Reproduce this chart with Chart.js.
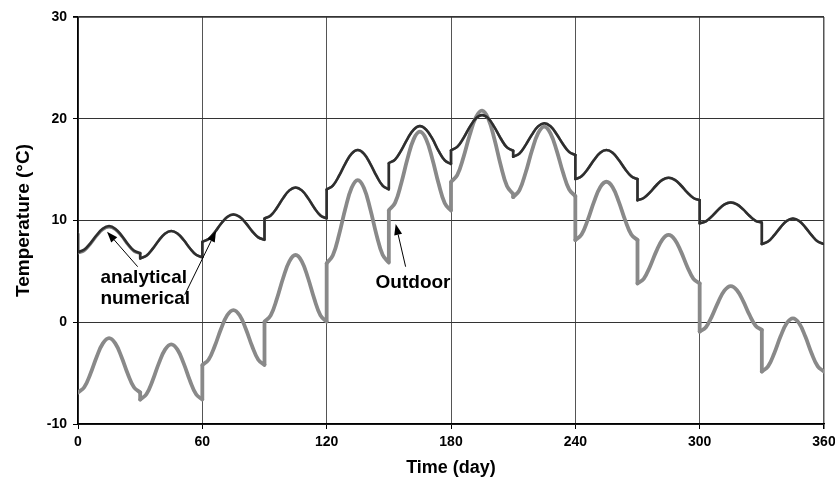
<!DOCTYPE html>
<html>
<head>
<meta charset="utf-8">
<script src="https://cdn.jsdelivr.net/npm/chart.js@4/dist/chart.umd.min.js"></script>
<style>
  html, body { margin: 0; padding: 0; background: #ffffff; }
  #wrap { width: 835px; height: 482px; position: relative; }
</style>
</head>
<body>
<div id="wrap"><canvas id="c" width="835" height="482"></canvas></div>
<script>
// Time axis (day); a repeated day marks a monthly step in the curves
const days = [
  0, 0, 3, 6, 9, 12, 15, 18, 21, 24, 27, 30,
  30, 33, 36, 39, 42, 45, 48, 51, 54, 57, 60,
  60, 63, 66, 69, 72, 75, 78, 81, 84, 87, 90,
  90, 93, 96, 99, 102, 105, 108, 111, 114, 117, 120,
  120, 123, 126, 129, 132, 135, 138, 141, 144, 147, 150,
  150, 153, 156, 159, 162, 165, 168, 171, 174, 177, 180,
  180, 183, 186, 189, 192, 195, 198, 201, 204, 207, 210,
  210, 213, 216, 219, 222, 225, 228, 231, 234, 237, 240,
  240, 243, 246, 249, 252, 255, 258, 261, 264, 267, 270,
  270, 273, 276, 279, 282, 285, 288, 291, 294, 297, 300,
  300, 303, 306, 309, 312, 315, 318, 321, 324, 327, 330,
  330, 333, 336, 339, 342, 345, 348, 351, 354, 357, 360
];

// Analytical soil temperature (°C)
const analytical = [
  8.7, 6.9, 7.14, 7.78, 8.57, 9.21, 9.45, 9.2, 8.54, 7.71, 7.05, 6.8,
  6.28, 6.54, 7.21, 8.04, 8.71, 8.97, 8.72, 8.08, 7.27, 6.63, 6.38,
  7.92, 8.17, 8.84, 9.68, 10.35, 10.6, 10.36, 9.74, 8.96, 8.34, 8.1,
  10.2, 10.49, 11.25, 12.2, 12.96, 13.25, 12.96, 12.2, 11.25, 10.49, 10.2,
  13.06, 13.43, 14.4, 15.6, 16.56, 16.93, 16.56, 15.6, 14.4, 13.43, 13.06,
  15.65, 15.99, 16.9, 18.03, 18.94, 19.28, 18.93, 18.04, 16.84, 15.9, 15.55,
  16.9, 17.23, 18.09, 19.17, 20.03, 20.36, 20.03, 19.15, 18.06, 17.18, 16.85,
  16.27, 16.58, 17.41, 18.42, 19.25, 19.56, 19.26, 18.48, 17.52, 16.74, 16.44,
  14.07, 14.34, 15.06, 15.94, 16.66, 16.93, 16.66, 15.94, 15.06, 14.34, 14.07,
  12.0, 12.21, 12.76, 13.44, 13.99, 14.2, 13.99, 13.44, 12.76, 12.21, 12.0,
  9.72, 9.92, 10.43, 11.07, 11.58, 11.78, 11.59, 11.09, 10.47, 9.97, 9.79,
  7.69, 7.93, 8.56, 9.33, 9.96, 10.2, 9.96, 9.33, 8.56, 7.93, 7.69
];

// Numerical soil temperature (°C)
const numerical = [
  8.7, 6.8, 7.02, 7.66, 8.45, 9.1, 9.35, 9.1, 8.45, 7.62, 6.97, 6.75,
  6.28, 6.54, 7.21, 8.04, 8.71, 8.97, 8.72, 8.08, 7.27, 6.63, 6.38,
  7.92, 8.17, 8.84, 9.68, 10.35, 10.6, 10.36, 9.74, 8.96, 8.34, 8.1,
  10.2, 10.49, 11.25, 12.2, 12.96, 13.25, 12.96, 12.2, 11.25, 10.49, 10.2,
  13.06, 13.43, 14.4, 15.6, 16.56, 16.93, 16.56, 15.6, 14.4, 13.43, 13.06,
  15.65, 15.99, 16.9, 18.03, 18.94, 19.28, 18.93, 18.04, 16.84, 15.9, 15.55,
  16.9, 17.23, 18.09, 19.17, 20.03, 20.36, 20.03, 19.15, 18.06, 17.18, 16.85,
  16.27, 16.58, 17.41, 18.42, 19.25, 19.56, 19.26, 18.48, 17.52, 16.74, 16.44,
  14.07, 14.34, 15.06, 15.94, 16.66, 16.93, 16.66, 15.94, 15.06, 14.34, 14.07,
  12.0, 12.21, 12.76, 13.44, 13.99, 14.2, 13.99, 13.44, 12.76, 12.21, 12.0,
  9.72, 9.92, 10.43, 11.07, 11.58, 11.78, 11.59, 11.09, 10.47, 9.97, 9.79,
  7.69, 7.93, 8.56, 9.33, 9.96, 10.2, 9.96, 9.33, 8.56, 7.93, 7.69
];

// Outdoor air temperature (°C)
const outdoor = [
  -6.9, -6.9, -6.39, -5.06, -3.41, -2.08, -1.57, -2.08, -3.41, -5.06, -6.39, -6.9,
  -7.6, -7.08, -5.73, -4.04, -2.69, -2.17, -2.69, -4.04, -5.73, -7.08, -7.6,
  -4.2, -3.69, -2.34, -0.66, 0.69, 1.2, 0.69, -0.66, -2.34, -3.69, -4.2,
  0.06, 0.68, 2.32, 4.35, 5.99, 6.61, 5.99, 4.35, 2.32, 0.68, 0.06,
  5.8, 6.58, 8.62, 11.15, 13.19, 13.97, 13.2, 11.16, 8.63, 6.63, 5.86,
  11.0, 11.73, 13.67, 16.06, 18.0, 18.73, 17.99, 16.05, 13.65, 11.7, 10.97,
  13.8, 14.46, 16.21, 18.38, 20.13, 20.79, 20.01, 17.96, 15.43, 13.38, 12.6,
  12.3, 12.96, 14.69, 16.83, 18.56, 19.22, 18.57, 16.87, 14.75, 13.05, 12.4,
  8.08, 8.62, 10.06, 11.83, 13.27, 13.81, 13.27, 11.83, 10.06, 8.62, 8.08,
  3.82, 4.27, 5.46, 6.94, 8.13, 8.58, 8.13, 6.94, 5.46, 4.27, 3.82,
  -0.92, -0.49, 0.63, 2.01, 3.13, 3.56, 3.15, 2.07, 0.74, -0.34, -0.75,
  -4.84, -4.34, -3.04, -1.41, -0.1, 0.39, -0.1, -1.41, -3.04, -4.34, -4.84
];

// Axis ticks
const xTicks = [0, 60, 120, 180, 240, 300, 360];
const yTicks = [-10, 0, 10, 20, 30];

// Callout labels (text, anchor in data units) and arrows (tail -> head, data units)
const calloutTexts = [
  { text: 'analytical', x: 10.8, y: 3.9 },
  { text: 'numerical', x: 10.8, y: 1.75 },
  { text: 'Outdoor', x: 143.6, y: 3.37 }
];
const calloutArrows = [
  { x0: 28.8, y0: 5.46, x1: 14.0, y1: 8.9 },
  { x0: 51.5, y0: 2.7, x1: 66.6, y1: 8.97 },
  { x0: 158.1, y0: 5.46, x1: 153.3, y1: 9.66 }
];

const FONT = "'Liberation Sans', Arial, Helvetica, sans-serif";

// Split a series into smooth monthly runs and the vertical monthly steps between them
function buildSeries(vals, style, order) {
  const runs = [];
  const steps = [];
  let cur = [];
  days.forEach((d, i) => {
    if (i > 0 && d === days[i - 1]) {
      runs.push(cur);
      steps.push({ x: days[i - 1], y: vals[i - 1] }, { x: d, y: vals[i] }, { x: d, y: null });
      cur = [];
    }
    cur.push({ x: d, y: vals[i] });
  });
  runs.push(cur);
  const sets = runs.map(r => ({
    data: r, borderColor: style.color, borderWidth: style.width,
    tension: 0.4, pointRadius: 0, order: order, borderCapStyle: 'round', borderJoinStyle: 'round'
  }));
  sets.push({
    data: steps, borderColor: style.color, borderWidth: style.width,
    tension: 0, pointRadius: 0, order: order, spanGaps: false, borderJoinStyle: 'round'
  });
  return sets;
}

const calloutPlugin = {
  id: 'callouts',
  afterDatasetsDraw(chart) {
    const { ctx, scales: { x, y } } = chart;
    ctx.save();
    ctx.strokeStyle = '#000';
    ctx.fillStyle = '#000';
    ctx.lineWidth = 1;
    calloutArrows.forEach(a => {
      const px0 = x.getPixelForValue(a.x0), py0 = y.getPixelForValue(a.y0);
      const px1 = x.getPixelForValue(a.x1), py1 = y.getPixelForValue(a.y1);
      const ang = Math.atan2(py1 - py0, px1 - px0);
      const hl = 11, hw = 4;
      const bx = px1 - hl * Math.cos(ang), by = py1 - hl * Math.sin(ang);
      ctx.beginPath();
      ctx.moveTo(px0, py0);
      ctx.lineTo(bx, by);
      ctx.stroke();
      ctx.beginPath();
      ctx.moveTo(px1, py1);
      ctx.lineTo(bx + hw * Math.sin(ang), by - hw * Math.cos(ang));
      ctx.lineTo(bx - hw * Math.sin(ang), by + hw * Math.cos(ang));
      ctx.closePath();
      ctx.fill();
    });
    ctx.font = 'bold 19px ' + FONT;
    ctx.textAlign = 'left';
    ctx.textBaseline = 'alphabetic';
    calloutTexts.forEach(t => {
      ctx.fillText(t.text, x.getPixelForValue(t.x), y.getPixelForValue(t.y));
    });
    ctx.restore();
  }
};

new Chart(document.getElementById('c'), {
  type: 'line',
  data: {
    datasets: [
      ...buildSeries(outdoor, { color: '#898989', width: 3.8 }, 3),
      ...buildSeries(numerical, { color: '#7a7a7a', width: 2.6 }, 2),
      ...buildSeries(analytical, { color: '#2e2e2e', width: 2.5 }, 1)
    ]
  },
  options: {
    responsive: false,
    animation: false,
    layout: { padding: { top: 17, right: 11, bottom: 0, left: 0 } },
    plugins: {
      legend: { display: false },
      tooltip: { enabled: false }
    },
    scales: {
      x: {
        type: 'linear',
        min: 0,
        max: 360,
        afterBuildTicks: (s) => { s.ticks = xTicks.map(v => ({ value: v })); },
        afterFit: (s) => { s.height = 58; s.paddingLeft = 0; s.paddingRight = 0; },
        ticks: {
          color: '#000',
          font: { family: FONT, size: 14, weight: 'bold' },
          padding: 5,
          maxRotation: 0
        },
        grid: {
          color: '#555',
          lineWidth: (c) => (c.index === 6 ? 1.5 : 1),
          tickLength: 5,
          tickColor: '#000'
        },
        border: { color: '#000', width: 1.5 },
        title: {
          display: true,
          text: 'Time (day)',
          color: '#000',
          font: { family: FONT, size: 18, weight: 'bold' },
          padding: { top: 0, bottom: 3 }
        }
      },
      y: {
        type: 'linear',
        min: -10,
        max: 30,
        afterBuildTicks: (s) => { s.ticks = yTicks.map(v => ({ value: v })); },
        afterFit: (s) => { s.width = 78; s.paddingTop = 0; s.paddingBottom = 0; },
        ticks: {
          color: '#000',
          font: { family: FONT, size: 14, weight: 'bold' },
          padding: 6
        },
        grid: {
          color: '#333',
          lineWidth: (c) => (c.index === 4 ? 1.8 : 1),
          tickLength: 5,
          tickColor: '#000'
        },
        border: { color: '#000', width: 1.5 },
        title: {
          display: true,
          text: 'Temperature (°C)',
          color: '#000',
          font: { family: FONT, size: 19, weight: 'bold' },
          padding: { top: 12, bottom: 0 }
        }
      }
    }
  },
  plugins: [calloutPlugin]
});
</script>
</body>
</html>
